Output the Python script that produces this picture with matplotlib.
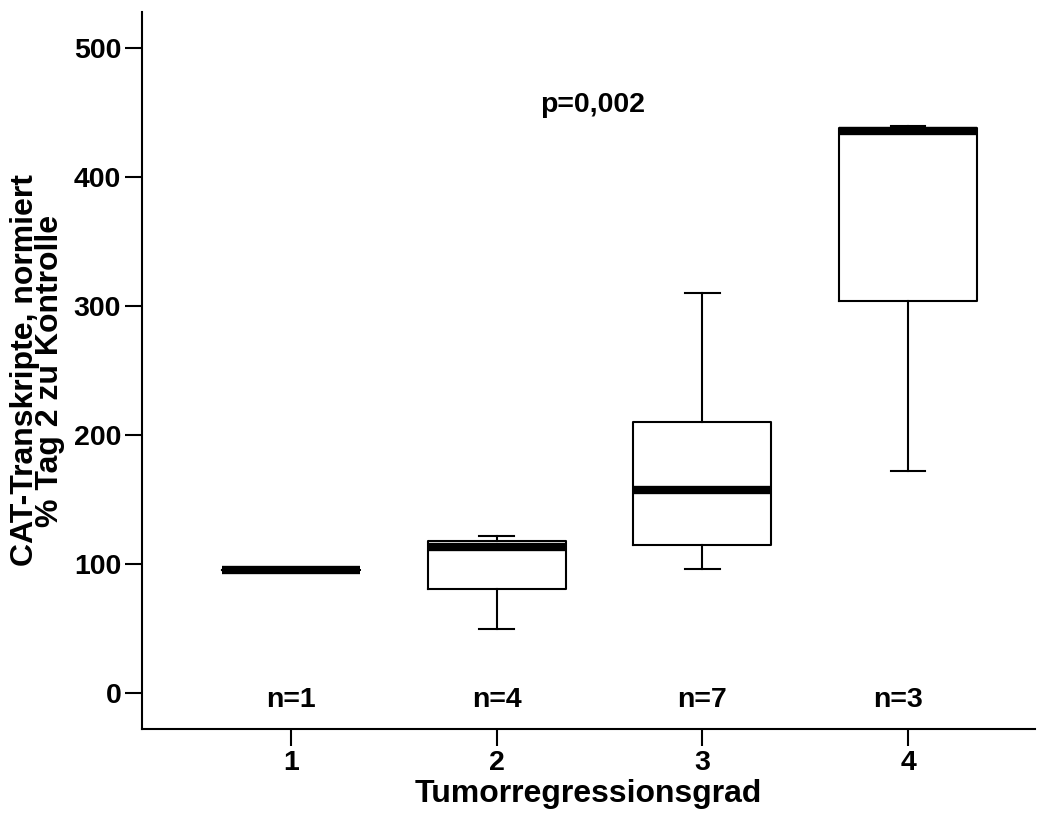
import matplotlib
matplotlib.use("Agg")
import matplotlib.pyplot as plt

plt.rcParams["font.family"] = ["Liberation Sans", "DejaVu Sans"]
plt.rcParams["font.weight"] = "bold"

grades = [1, 2, 3, 4]
whislo = [95.3, 49.6, 96.0, 172.0]
q1 = [95.3, 80.6, 114.7, 303.9]
medians = [95.3, 113.5, 157.0, 435.6]
q3 = [95.3, 117.8, 210.0, 438.0]
whishi = [95.3, 121.7, 310.0, 439.5]
n_labels = ["n=1", "n=4", "n=7", "n=3"]
n_pos = [1.0, 2.0, 3.0, 3.95]
p_text = "p=0,002"

stats = []
for i, g in enumerate(grades):
    stats.append({
        "med": medians[i], "q1": q1[i], "q3": q3[i],
        "whislo": whislo[i], "whishi": whishi[i], "fliers": [], "label": str(g),
    })

fig = plt.figure(figsize=(10.49, 8.23), dpi=100)
ax = fig.add_axes([142 / 1049, 1 - 729 / 823, (1035 - 142) / 1049, (729 - 12) / 823])

ax.bxp(stats, positions=grades, widths=0.67, capwidths=0.17, showfliers=False,
       boxprops=dict(color="black", linewidth=1.5),
       whiskerprops=dict(color="black", linewidth=1.5),
       capprops=dict(color="black", linewidth=1.5),
       medianprops=dict(color="black", linewidth=6, solid_capstyle="butt"))

ax.set_xlim(1 - 149 / 205.7, 4 + 127 / 205.7)
ax.set_ylim(-27.9, 527.9)
ax.set_xticks(grades)
ax.set_xticklabels([str(g) for g in grades])
ax.set_yticks([0, 100, 200, 300, 400, 500])

for side in ["top", "right"]:
    ax.spines[side].set_visible(False)
for side in ["left", "bottom"]:
    ax.spines[side].set_linewidth(1.5)
ax.tick_params(axis="both", length=12, width=1.5, labelsize=20.5, pad=3)
for lbl in ax.get_xticklabels() + ax.get_yticklabels():
    lbl.set_fontweight("bold")

for lab, x in zip(n_labels, n_pos):
    ax.text(x, -5.4, lab, ha="center", va="center", fontsize=20.5, fontweight="bold")
ax.text(2.465, 455.8, p_text, ha="center", va="center", fontsize=20.5, fontweight="bold")

ax.set_xlabel("Tumorregressionsgrad", fontsize=23, fontweight="bold", labelpad=2)
ax.set_ylabel("CAT-Transkripte, normiert\n% Tag 2 zu Kontrolle", fontsize=23,
              fontweight="bold", linespacing=0.8, labelpad=6)

fig.savefig("out.png", dpi=100)
